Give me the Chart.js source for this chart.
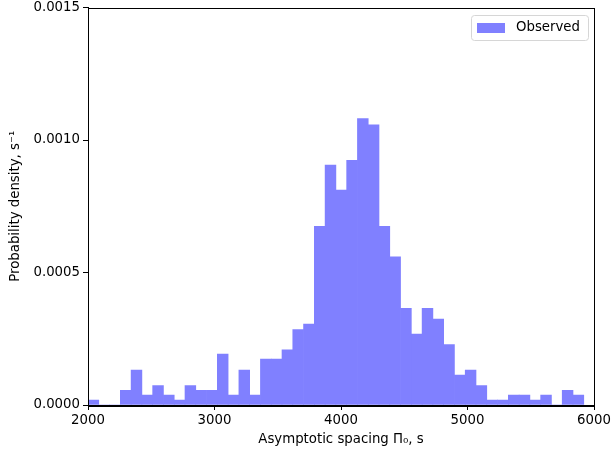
<!DOCTYPE html>
<html>
<head>
<meta charset="utf-8">
<script src="https://cdn.jsdelivr.net/npm/chart.js@4/dist/chart.umd.min.js"></script>
<style>
  html, body { margin: 0; padding: 0; background: #fff; }
  #chartContainer { width: 612px; height: 456px; }
</style>
</head>
<body>
<div id="chartContainer"><canvas id="chart" width="612" height="456"></canvas></div>
<script>
// bin centres (s), bin width ~85 s
const binCenters = [
  2042.6, 2127.8, 2213.0, 2298.2, 2383.4, 2468.6, 2553.8, 2639.0, 2724.2, 2809.4,
  2894.6, 2979.8, 3065.0, 3150.2, 3235.4, 3320.6, 3405.8, 3491.0, 3576.2, 3661.4,
  3746.6, 3831.8, 3917.0, 4002.2, 4087.4, 4172.6, 4257.8, 4343.0, 4428.2, 4513.4,
  4598.6, 4683.8, 4769.0, 4854.2, 4939.4, 5024.6, 5109.8, 5195.0, 5280.2, 5365.4,
  5450.6, 5535.8, 5621.0, 5706.2, 5791.4, 5876.6
];

// probability density per bin (1/s)
const densityValues = [
  0.000019, 0, 0, 0.000055, 0.000132, 0.000037, 0.000073, 0.000037, 0.000019, 0.000073,
  0.000055, 0.000055, 0.000192, 0.000037, 0.000132, 0.000037, 0.000173, 0.000173, 0.000208, 0.000285,
  0.000305, 0.000674, 0.000905, 0.000811, 0.000923, 0.001081, 0.001057, 0.000674, 0.000559, 0.000365,
  0.000268, 0.000365, 0.000324, 0.000228, 0.000113, 0.000132, 0.000073, 0.000019, 0.000019, 0.000037,
  0.000037, 0.000019, 0.000037, 0, 0.000055, 0.000037
];

const xTicks = [2000, 3000, 4000, 5000, 6000];
const yTicks = [0, 0.0005, 0.0010, 0.0015];

const seriesLabel = "Observed";
const xTitle = "Asymptotic spacing \u03A0\u2080, s";
const yTitle = "Probability density, s\u207B\u00B9";

const fontFamily = "'DejaVu Sans', sans-serif";

// Rahmen um den Plotbereich (wie matplotlib-Spines) + Legende oben rechts
const framePlugin = {
  id: 'frame',
  afterDraw(chart) {
    const a = chart.chartArea;
    const ctx = chart.ctx;
    ctx.save();
    ctx.strokeStyle = '#000';
    ctx.lineWidth = 1;
    ctx.strokeRect(Math.round(a.left) + 0.5, Math.round(a.top) + 0.5,
      Math.round(a.right - a.left), Math.round(a.bottom - a.top));

    // Legende
    const ds = chart.data.datasets[0];
    ctx.font = "13.3px " + fontFamily;
    const textW = ctx.measureText(ds.label).width;
    const right = a.right - 6;
    const x0 = right - (textW + 6 + 11 + 28 + 8);
    const y0 = a.top + 7;
    ctx.fillStyle = '#fff';
    ctx.strokeStyle = '#d6d6d6';
    ctx.beginPath();
    ctx.roundRect(Math.round(x0) + 0.5, Math.round(y0) + 0.5, Math.round(right - x0), 25, 3);
    ctx.fill();
    ctx.stroke();
    ctx.fillStyle = ds.backgroundColor;
    ctx.fillRect(Math.round(x0) + 6, Math.round(y0) + 8, 28, 10);
    ctx.fillStyle = '#000';
    ctx.textBaseline = 'middle';
    ctx.textAlign = 'left';
    ctx.fillText(ds.label, Math.round(x0) + 6 + 28 + 11, Math.round(y0) + 13);
    ctx.restore();
  }
};

function buildChart() {
  const points = binCenters.map(function (c, i) {
    return { x: c, y: densityValues[i] };
  });

  const data = {
    datasets: [{
      label: seriesLabel,
      data: points,
      backgroundColor: '#8080ff',
      borderWidth: 0,
      barPercentage: 1.0,
      categoryPercentage: 1.0
    }]
  };

  const config = {
    type: 'bar',
    data: data,
    options: {
      responsive: false,
      animation: false,
      layout: { padding: { top: 0, right: 18, left: 0, bottom: 0 } },
      plugins: {
        tooltip: { enabled: false },
        legend: { display: false }
      },
      scales: {
        x: {
          type: 'linear',
          min: 2000,
          max: 6000,
          offset: false,
          afterFit: function (s) { s.height = 51; s.paddingLeft = 0; s.paddingRight = 0; },
          afterBuildTicks: function (s) { s.ticks = xTicks.map(v => ({ value: v })); },
          grid: { offset: false, drawOnChartArea: false, drawTicks: true, tickLength: 5, color: '#000' },
          border: { display: true, color: '#000' },
          ticks: {
            color: '#000',
            padding: 3,
            maxRotation: 0,
            font: { family: fontFamily, size: 13.3 },
            callback: v => String(v)
          },
          title: {
            display: true,
            text: xTitle,
            color: '#000',
            font: { family: fontFamily, size: 13.3 },
            padding: { top: 0, bottom: 8 }
          }
        },
        y: {
          min: 0,
          max: 0.0015,
          afterFit: function (s) { s.width = 88; s.paddingTop = 7.5; s.paddingBottom = 0; },
          afterBuildTicks: function (s) { s.ticks = yTicks.map(v => ({ value: v })); },
          grid: { drawOnChartArea: false, drawTicks: true, tickLength: 5, color: '#000' },
          border: { display: true, color: '#000' },
          ticks: {
            color: '#000',
            padding: 3,
            font: { family: fontFamily, size: 13.3 },
            callback: v => Number(v).toFixed(4)
          },
          title: {
            display: true,
            text: yTitle,
            color: '#000',
            font: { family: fontFamily, size: 13.3 },
            padding: { top: 8, bottom: 0 }
          }
        }
      }
    },
    plugins: [framePlugin]
  };

  new Chart(document.getElementById('chart'), config);
}

buildChart();
</script>
</body>
</html>
